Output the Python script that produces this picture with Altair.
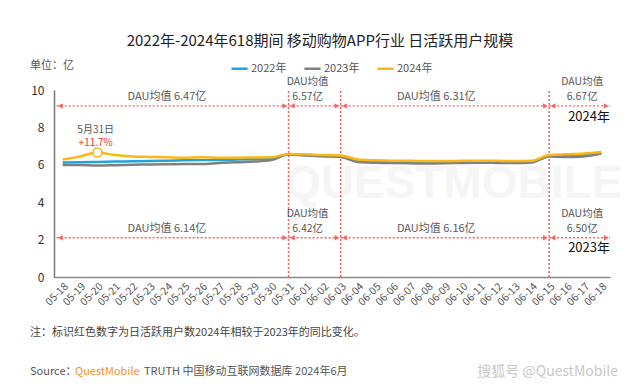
import altair as alt
import pandas as pd

dates = ['05-18','05-19','05-20','05-21','05-22','05-23','05-24','05-25','05-26','05-27',
         '05-28','05-29','05-30','05-31','06-01','06-02','06-03','06-04','06-05','06-06',
         '06-07','06-08','06-09','06-10','06-11','06-12','06-13','06-14','06-15','06-16',
         '06-17','06-18']
dau_2022 = [6.12,6.13,6.15,6.17,6.19,6.20,6.22,6.24,6.25,6.26,6.28,6.30,6.33,6.55,6.52,6.48,
            6.45,6.22,6.18,6.17,6.16,6.17,6.18,6.18,6.17,6.16,6.15,6.18,6.48,6.50,6.55,6.62]
dau_2023 = [5.99,5.99,5.96,5.98,6.00,6.02,6.03,6.04,6.04,6.10,6.13,6.17,6.25,6.56,6.50,6.45,
            6.42,6.15,6.11,6.09,6.08,6.07,6.08,6.10,6.11,6.10,6.09,6.12,6.45,6.42,6.45,6.60]
dau_2024 = [6.28,6.45,6.66,6.52,6.45,6.42,6.40,6.38,6.40,6.38,6.38,6.39,6.40,6.58,6.56,6.52,
            6.50,6.28,6.24,6.22,6.21,6.20,6.20,6.21,6.22,6.21,6.20,6.22,6.52,6.56,6.60,6.68]
series = ['2022年', '2023年', '2024年']
colors = ['#1ea5e0', '#808080', '#fbb715']

# period boundaries (index), averages
boundaries = [13, 16, 28]
seg_start = [-0.35, 13, 16, 28]
seg_end = [13, 16, 28, 31.5]
avg_2024 = ['6.47亿', '6.57亿', '6.31亿', '6.67亿']
avg_2023 = ['6.14亿', '6.42亿', '6.16亿', '6.50亿']
seg_label_x = [6.0, 14.1, 21.5, 29.9]
arrow_y_2024 = 9.15
arrow_y_2023 = 2.1

RED = '#ff5c5c'
FONT = 'Noto Sans CJK SC'

rows = []
for s, vals in zip(series, [dau_2022, dau_2023, dau_2024]):
    for i, v in enumerate(vals):
        rows.append({'i': i, 'v': v, 's': s})
df = pd.DataFrame(rows)

label_expr = '[' + ','.join("'%s'" % d for d in dates) + '][datum.value]'

XSCALE = alt.Scale(domain=[-0.5, 31.5], nice=False, zero=False)
YSCALE = alt.Scale(domain=[0, 10], nice=False)
XAXIS = alt.Axis(values=list(range(32)), labelExpr=label_expr, labelAngle=-45,
                 labelFontSize=10.5, labelColor='#555', ticks=False, grid=False,
                 domainColor='#888', domainWidth=1.5, labelPadding=4, title=None,
                 labelFont=FONT, labelOverlap=False)
YAXIS = alt.Axis(values=[0, 2, 4, 6, 8, 10], ticks=False, grid=False,
                 domainColor='#777', domainWidth=1.5, labelFontSize=12,
                 labelColor='#333', labelPadding=10, title=None, labelFont=FONT,
                 labelOverlap=False)


def X(f):
    return alt.X(f, scale=XSCALE, axis=XAXIS)


def Y(f):
    return alt.Y(f, scale=YSCALE, axis=YAXIS)


base = alt.Chart(df)

# watermark
wm = alt.Chart(pd.DataFrame({'i': [22.5], 'v': [4.95], 't': ['QUESTMOBILE']})).mark_text(
    fontSize=46, font='Liberation Sans', fontWeight='bold', color='#f5f5f5'
).encode(x=X('i:Q'), y=Y('v:Q'), text='t:N')

# vertical red dotted lines
vdf = pd.DataFrame({'i': boundaries, 'y0': [0]*3, 'y1': [10]*3})
vlines = alt.Chart(vdf).mark_rule(color=RED, strokeDash=[2, 2], strokeWidth=1.5).encode(
    x=X('i:Q'), y=Y('y0:Q'), y2='y1:Q')

# horizontal arrows
adf = pd.DataFrame({
    'a': seg_start * 2, 'b': seg_end * 2,
    'v': [arrow_y_2024]*4 + [arrow_y_2023]*4})
hlines = alt.Chart(adf).mark_rule(color=RED, strokeDash=[2, 2], strokeWidth=1.3).encode(
    x=X('a:Q'), x2='b:Q', y=Y('v:Q'))
tips_l = pd.DataFrame({'i': [s + 0.22 for s in seg_start] * 2,
                       'v': [arrow_y_2024]*4 + [arrow_y_2023]*4})
tips_r = pd.DataFrame({'i': [e - 0.22 for e in seg_end] * 2,
                       'v': [arrow_y_2024]*4 + [arrow_y_2023]*4})
tl = alt.Chart(tips_l).mark_point(shape='triangle-left', filled=True, size=28, color=RED,
                                  opacity=1).encode(x=X('i:Q'), y=Y('v:Q'))
tr = alt.Chart(tips_r).mark_point(shape='triangle-right', filled=True, size=28, color=RED,
                                  opacity=1).encode(x=X('i:Q'), y=Y('v:Q'))

# period average labels
one_line = pd.DataFrame({
    'i': [seg_label_x[0], seg_label_x[2], seg_label_x[0], seg_label_x[2]],
    'v': [arrow_y_2024]*2 + [arrow_y_2023]*2,
    't': ['DAU均值  ' + avg_2024[0], 'DAU均值  ' + avg_2024[2],
          'DAU均值  ' + avg_2023[0], 'DAU均值  ' + avg_2023[2]]})
t1 = alt.Chart(one_line).mark_text(fontSize=11, color='#595959', dy=-9, font=FONT).encode(
    x=X('i:Q'), y=Y('v:Q'), text='t:N')
two_top = pd.DataFrame({
    'i': [seg_label_x[1], seg_label_x[3]] * 2,
    'v': [arrow_y_2024]*2 + [arrow_y_2023]*2,
    't': ['DAU均值'] * 4})
two_bot = pd.DataFrame({
    'i': [seg_label_x[1], seg_label_x[3]] * 2,
    'v': [arrow_y_2024]*2 + [arrow_y_2023]*2,
    't': [avg_2024[1], avg_2024[3], avg_2023[1], avg_2023[3]]})
t2a = alt.Chart(two_top).mark_text(fontSize=10.5, color='#595959', dy=-24, font=FONT).encode(
    x=X('i:Q'), y=Y('v:Q'), text='t:N')
t2b = alt.Chart(two_bot).mark_text(fontSize=10.5, color='#595959', dy=-9, font=FONT).encode(
    x=X('i:Q'), y=Y('v:Q'), text='t:N')

yr = pd.DataFrame({'i': [31.5, 31.5], 'v': [8.55, 1.55], 't': ['2024年', '2023年']})
yrt = alt.Chart(yr).mark_text(fontSize=13, color='#111', align='right', font=FONT).encode(
    x=X('i:Q'), y=Y('v:Q'), text='t:N')

lines = base.mark_line(strokeWidth=2.5, interpolate='monotone').encode(
    x=X('i:Q'), y=Y('v:Q'),
    color=alt.Color('s:N', scale=alt.Scale(domain=series, range=colors),
                    legend=alt.Legend(title=None, orient='none', legendX=176, legendY=-31,
                                      direction='horizontal', symbolType='stroke',
                                      symbolStrokeWidth=2.5, symbolSize=260,
                                      labelFontSize=11, labelColor='#555',
                                      labelFont=FONT, columnPadding=12, labelOffset=2)))

mk = pd.DataFrame({'i': [2], 'v': [dau_2024[2]]})
marker = alt.Chart(mk).mark_point(shape='circle', filled=True, fill='white', stroke='#fbb715',
                                  strokeWidth=1.5, size=80, opacity=1).encode(
    x=X('i:Q'), y=Y('v:Q'))
ann = pd.DataFrame({'i': [1.9, 1.9], 'v': [7.86, 7.14], 't': ['5月31日', '+11.7%'],
                    'c': ['#555555', '#ff3030']})
annt = alt.Chart(ann).mark_text(fontSize=10, font=FONT).encode(
    x=X('i:Q'), y=Y('v:Q'), text='t:N', color=alt.Color('c:N', scale=None))

# page texts
title = alt.Chart(pd.DataFrame({'t': ['2022年-2024年618期间 移动购物APP行业 日活跃用户规模']})).mark_text(
    fontSize=15, color='#222', font=FONT, fontWeight='normal').encode(
    x=alt.value(266), y=alt.value(-49), text='t:N')
unit = alt.Chart(pd.DataFrame({'t': ['单位：亿']})).mark_text(
    fontSize=11, color='#555', align='left', font=FONT).encode(
    x=alt.value(-24), y=alt.value(-24), text='t:N')
note = alt.Chart(pd.DataFrame({'t': ['注：标识红色数字为日活跃用户数2024年相较于2023年的同比变化。']})).mark_text(
    fontSize=11, color='#444', align='left', font=FONT).encode(
    x=alt.value(-24), y=alt.value(243), text='t:N')
src1 = alt.Chart(pd.DataFrame({'t': ['Source：']})).mark_text(
    fontSize=11, color='#555', align='left', font=FONT).encode(
    x=alt.value(-24), y=alt.value(282), text='t:N')
src2 = alt.Chart(pd.DataFrame({'t': ['QuestMobile']})).mark_text(
    fontSize=11, color='#f7931e', align='left', font=FONT).encode(
    x=alt.value(21), y=alt.value(282), text='t:N')
src3 = alt.Chart(pd.DataFrame({'t': ['TRUTH 中国移动互联网数据库 2024年6月']})).mark_text(
    fontSize=11, color='#555', align='left', font=FONT).encode(
    x=alt.value(90), y=alt.value(282), text='t:N')
sohu = alt.Chart(pd.DataFrame({'t': ['搜狐号 @QuestMobile']})).mark_text(
    fontSize=14, color='#c8c8c8', align='right', font=FONT).encode(
    x=alt.value(564), y=alt.value(282), text='t:N')

chart = alt.layer(
    wm, vlines, hlines, tl, tr, t1, t2a, t2b, yrt, lines, marker, annt,
    title, unit, note, src1, src2, src3, sohu
).properties(
    width=556, height=187,
    autosize=alt.AutoSizeParams(type='none'),
    padding={'left': 46, 'top': 82, 'right': 22, 'bottom': 102},
    background='white'
).configure_view(stroke=None)

chart.save('out.html', embed_options={'renderer': 'svg', 'actions': False})
